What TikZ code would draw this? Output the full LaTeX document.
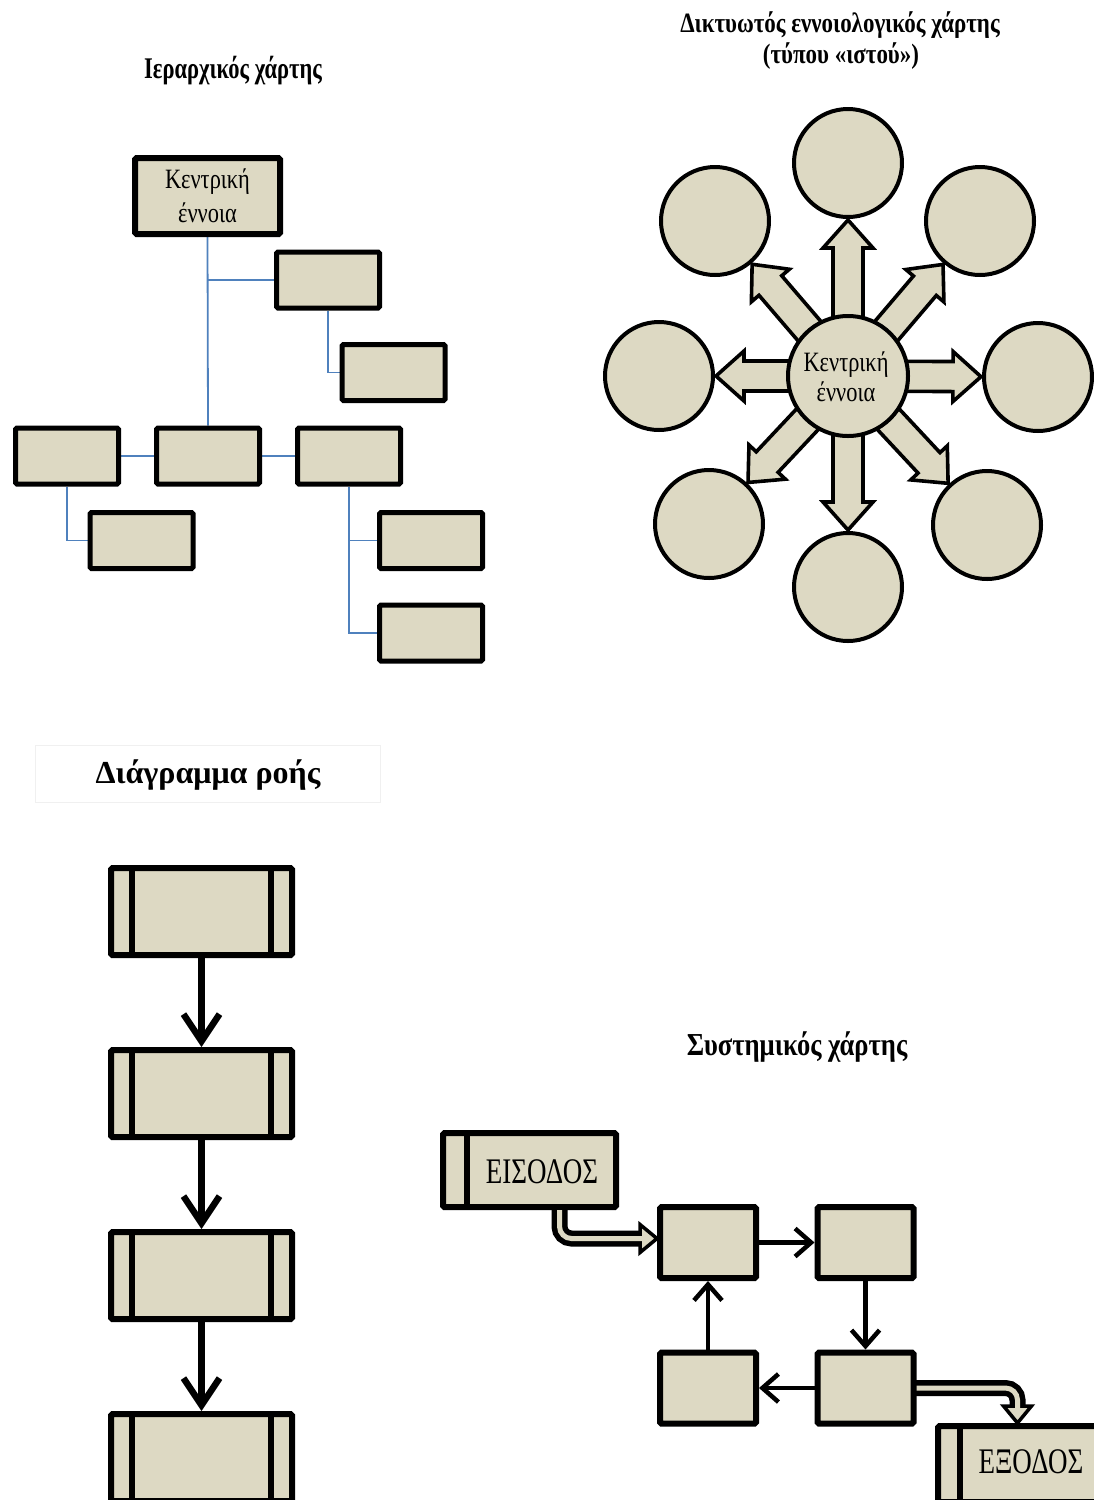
\documentclass[tikz,border=0pt]{standalone}
\usepackage{fontspec}
\setmainfont{Liberation Serif}
\usetikzlibrary{arrows.meta,calc}
\pgfdeclarelayer{paper}
\pgfdeclarelayer{under}
\pgfsetlayers{paper,under,main}
\definecolor{beige}{RGB}{221,217,195}
\definecolor{linkblue}{RGB}{79,129,189}
\definecolor{framegray}{RGB}{240,240,240}
\begin{document}
\begin{tikzpicture}[x=1pt,y=-1pt,
  hbox/.style={draw=black, fill=beige, line width=5pt, rounded corners=1.5pt, minimum width=103pt, minimum height=56pt, inner sep=0pt},
  cbox/.style={hbox, line width=6pt, minimum width=145pt, minimum height=76pt},
  link/.style={draw=linkblue, line width=1.8pt},
  ncirc/.style={circle, draw=black, fill=beige, line width=4pt, minimum size=108pt, inner sep=0pt},
  ccirc/.style={ncirc, minimum size=120pt},
  barrow/.style={draw=black, fill=beige, line width=3.6pt, line join=miter},
  pbox/.style={draw=black, fill=beige, line width=6pt, rounded corners=1.5pt, minimum width=181pt, minimum height=87pt, inner sep=0pt},
  sbox/.style={draw=black, fill=beige, line width=6pt, rounded corners=1.5pt, minimum width=96pt, minimum height=71pt, inner sep=0pt},
  iobox/.style={sbox, minimum width=173pt, minimum height=74pt},
  bar/.style={line width=6pt},
  flowarrow/.style={line width=6.5pt, -{Straight Barb[length=27pt,width=36pt]}},
  sysarrow/.style={line width=4.5pt, -{Straight Barb[length=16pt,width=28pt]}},
  dshaft/.style={draw=black, line width=16pt, rounded corners=12pt},
  dinner/.style={draw=beige, line width=5pt, rounded corners=12pt},
  dhead/.style={draw=black, fill=beige, line width=3.5pt, line join=miter},
  ttl/.style={font=\fontsize{30}{36}\selectfont\bfseries, anchor=base, inner sep=0pt},
  lbl/.style={font=\fontsize{28}{32}\selectfont, anchor=base, inner sep=0pt},
  iolbl/.style={font=\fontsize{36}{40}\selectfont, anchor=base, inner sep=0pt, xscale=0.75},
]
\useasboundingbox (0,0) rectangle (1094,1500);
\begin{pgfonlayer}{paper}
  \fill[white] (0,0) rectangle (1094,1500);
\end{pgfonlayer}

% ---------------- Hierarchical map ----------------
\node[ttl, xscale=0.75] (t1) at (233,78) {Ιεραρχικός χάρτης};
\node[cbox] (cb) at (207.5,196) {};
\node[lbl, xscale=0.8] (cbt1) at ($(cb.center)+(0,-8)$) {Κεντρική};
\node[lbl, xscale=0.8] (cbt2) at ($(cb.center)+(0,26)$) {έννοια};
\node[hbox] (b1) at (328,280) {};
\node[hbox] (b2) at (393.5,372.5) {};
\node[hbox] (bl) at (67,456) {};
\node[hbox] (bm) at (208,456) {};
\node[hbox] (br) at (349,456) {};
\node[hbox] (bl1) at (141.5,540.5) {};
\node[hbox] (br1) at (431,540.5) {};
\node[hbox] (br2) at (431,633) {};
\begin{pgfonlayer}{under}
  \draw[link] (cb.south) -- (bm.north);
  \draw[link] (cb.south |- b1.west) -- (b1.west);
  \draw[link] (b1.south) |- (b2.west);
  \draw[link] (bl.east) -- (bm.west);
  \draw[link] (bm.east) -- (br.west);
  \draw[link] (bl.south) |- (bl1.west);
  \draw[link] (br.south) |- (br1.west);
  \draw[link] (br.south) |- (br2.west);
\end{pgfonlayer}

% ---------------- Network (web) map ----------------
\node[ttl, font=\fontsize{28}{32}\selectfont\bfseries, xscale=0.82] (t2a) at (840,32) {Δικτυωτός εννοιολογικός χάρτης};
\node[ttl, font=\fontsize{28}{32}\selectfont\bfseries, xscale=0.82] (t2b) at (841,63) {(τύπου «ιστού»)};
\node[ccirc] (cc) at (848,376) {};
\node[lbl, xscale=0.8] (cct1) at ($(cc.center)+(-2,-5)$) {Κεντρική};
\node[lbl, xscale=0.8] (cct2) at ($(cc.center)+(-2,25)$) {έννοια};
\node[ncirc] (o1) at (848,163) {};
\node[ncirc] (o2) at (980,221) {};
\node[ncirc] (o3) at (1038,377) {};
\node[ncirc] (o4) at (987,525) {};
\node[ncirc] (o5) at (848,587) {};
\node[ncirc] (o6) at (709,524) {};
\node[ncirc] (o7) at (659,376) {};
\node[ncirc] (o8) at (715,221) {};
\begin{pgfonlayer}{under}
\foreach \i in {1,...,8} {
  \draw[barrow] let \p1=($(o\i.center)-(cc.center)$),
      \n1={atan2(\y1,\x1)},
      \n2={veclen(\x1,\y1)-57},
      \n3={veclen(\x1,\y1)-85} in
    ($(cc.center)+(\n1:30pt)+({\n1+90}:15pt)$)
    -- ($(cc.center)+(\n1:\n3)+({\n1+90}:15pt)$)
    -- ($(cc.center)+(\n1:\n3)+({\n1+90}:25pt)$)
    -- ($(cc.center)+(\n1:\n2)$)
    -- ($(cc.center)+(\n1:\n3)+({\n1-90}:25pt)$)
    -- ($(cc.center)+(\n1:\n3)+({\n1-90}:15pt)$)
    -- ($(cc.center)+(\n1:30pt)+({\n1-90}:15pt)$)
    -- cycle;
}
\end{pgfonlayer}

% ---------------- Flow chart ----------------
\node[draw=framegray, line width=1pt, minimum width=345pt, minimum height=57pt] (tf) at (207.5,773.5) {};
\node[ttl, font=\fontsize{32}{36}\selectfont\bfseries, xscale=1.0] (t3) at ($(tf.center)+(0.5,9.5)$) {Διάγραμμα ροής};
\node[pbox] (fb1) at (201.5,911.5) {};
\node[pbox] (fb2) at (201.5,1093.5) {};
\node[pbox] (fb3) at (201.5,1275.5) {};
\node[pbox] (fb4) at (201.5,1457.5) {};
\foreach \n in {fb1,fb2,fb3,fb4} {
  \draw[bar] ($(\n.north west)+(24,0)$) -- ($(\n.south west)+(24,0)$);
  \draw[bar] ($(\n.north east)+(-24,0)$) -- ($(\n.south east)+(-24,0)$);
}
\draw[flowarrow] (fb1.south) -- (fb2.north);
\draw[flowarrow] (fb2.south) -- (fb3.north);
\draw[flowarrow] (fb3.south) -- (fb4.north);

% ---------------- System map ----------------
\node[ttl, font=\fontsize{32}{36}\selectfont\bfseries, xscale=0.83] (t4) at (797,1055) {Συστημικός χάρτης};
\node[iobox] (in) at (529.5,1170) {};
\draw[bar] ($(in.north west)+(27,0)$) -- ($(in.south west)+(27,0)$);
\node[iolbl] (intx) at ($(in.center)+(12.5,13)$) {ΕΙΣΟΔΟΣ};
\node[sbox] (sa) at (708,1242.5) {};
\node[sbox] (sb) at (865.5,1242.5) {};
\node[sbox] (sc) at (708,1388) {};
\node[sbox] (sd) at (865.5,1388) {};
\node[iobox, minimum width=163pt, minimum height=76pt] (out) at (1019.5,1464) {};
\draw[bar] ($(out.north west)+(25,0)$) -- ($(out.south west)+(25,0)$);
\node[iolbl] (outtx) at ($(out.center)+(11.5,9)$) {ΕΞΟΔΟΣ};

\draw[sysarrow] (sa.east) -- (sb.west);
\draw[sysarrow] (sb.south) -- (sd.north);
\draw[sysarrow] (sd.west) -- (sc.east);
\draw[sysarrow] (sc.north) -- (sa.south);

% double arrow: input -> system
\coordinate (d1s) at ($(in.south)+(30,-3)$);
\coordinate (d1t) at ($(sa.west)+(0,-4)$);
\coordinate (d1b) at ($(d1t)+(-17,0)$);
\draw[dshaft] (d1s) |- (d1b);
\draw[dhead] (d1t) -- ++(-17,-14) -- ++(0,28) -- cycle;
\draw[dinner] ($(d1s)+(0,3)$) |- ($(d1b)+(4,0)$);

% double arrow: system -> output
\coordinate (d2s) at ($(sd.east)+(-3,0)$);
\coordinate (d2t) at ($(out.north)+(-2,0)$);
\coordinate (d2b) at ($(d2t)+(0,-17)$);
\draw[dshaft] (d2s) -| (d2b);
\draw[dhead] (d2t) -- ++(-14,-17) -- ++(28,0) -- cycle;
\draw[dinner] ($(d2s)+(3,0)$) -| ($(d2b)+(0,4)$);
\end{tikzpicture}
\end{document}
